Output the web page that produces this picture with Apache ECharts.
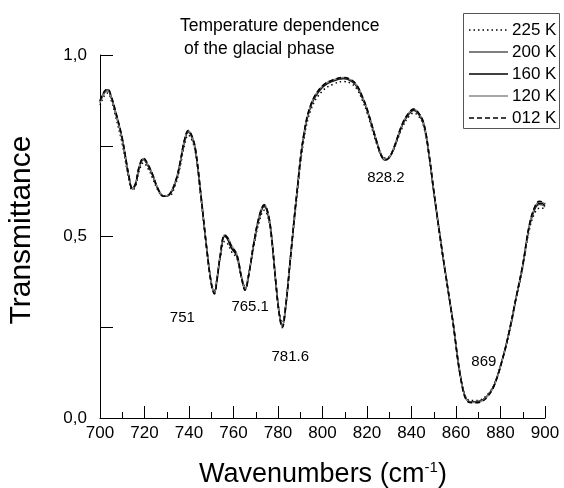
<!DOCTYPE html>
<html>
<head>
<meta charset="utf-8">
<script src="https://cdn.jsdelivr.net/npm/echarts@6/dist/echarts.min.js"></script>
<style>
html,body{margin:0;padding:0;background:#fff;}
#chart{width:564px;height:488px;}
</style>
</head>
<body>
<div id="chart"></div>
<script>
// Wavenumbers (cm^-1)
var wavenumbers = [
  700,702,703.5,705,707,710,713,714.5,716,717.5,
  719.5,721.5,723.5,726,728.5,731,734,736,738,739.7,
  741.5,743,745.5,748,750,751.4,752.5,754,756,757.5,
  759,761.5,763.5,765.2,767,769,771.5,773.8,775.5,777,
  779,780.5,781.9,783.5,785.5,788.5,791.5,795,800,805,
  809.5,813,815.5,818,820,824.5,826.5,828.2,830,832,
  836,839,841,843,845.5,848,850,854,858.5,862.5,
  865.5,868,871,874,877,881,884,887,890,893,
  895.5,897.5,899,900
];
var t225 = [
  0.862,0.888,0.895,0.876,0.831,0.755,0.656,0.628,0.638,0.678,
  0.703,0.688,0.663,0.628,0.612,0.612,0.645,0.692,0.753,0.779,
  0.763,0.727,0.598,0.462,0.375,0.352,0.382,0.44,0.486,0.479,
  0.459,0.44,0.39,0.362,0.402,0.468,0.54,0.572,0.553,0.498,
  0.375,0.295,0.262,0.315,0.432,0.61,0.762,0.853,0.901,0.92,
  0.927,0.921,0.906,0.874,0.842,0.752,0.722,0.716,0.72,0.74,
  0.802,0.832,0.84,0.833,0.803,0.715,0.622,0.448,0.27,0.1,
  0.05,0.048,0.05,0.064,0.09,0.165,0.238,0.326,0.415,0.52,
  0.566,0.578,0.578,0.574
];
var t200 = [
  0.868,0.895,0.901,0.882,0.839,0.765,0.662,0.631,0.643,0.686,
  0.711,0.695,0.67,0.631,0.611,0.614,0.65,0.699,0.762,0.787,
  0.769,0.732,0.603,0.464,0.372,0.346,0.379,0.446,0.5,0.49,
  0.468,0.446,0.389,0.355,0.4,0.474,0.549,0.582,0.56,0.503,
  0.374,0.29,0.254,0.311,0.434,0.618,0.772,0.862,0.91,0.928,
  0.934,0.927,0.912,0.88,0.848,0.756,0.72,0.71,0.716,0.74,
  0.808,0.838,0.847,0.838,0.808,0.718,0.624,0.45,0.27,0.098,
  0.047,0.045,0.047,0.061,0.088,0.165,0.24,0.33,0.42,0.528,
  0.576,0.588,0.586,0.581
];
var t160 = [
  0.872,0.898,0.904,0.885,0.843,0.768,0.665,0.632,0.645,0.688,
  0.714,0.697,0.672,0.632,0.612,0.615,0.652,0.702,0.765,0.79,
  0.772,0.735,0.605,0.465,0.372,0.345,0.378,0.445,0.502,0.492,
  0.47,0.447,0.39,0.354,0.4,0.476,0.552,0.585,0.563,0.505,
  0.375,0.29,0.252,0.31,0.435,0.62,0.775,0.865,0.913,0.93,
  0.936,0.929,0.914,0.882,0.85,0.758,0.723,0.712,0.718,0.742,
  0.81,0.84,0.849,0.84,0.81,0.72,0.625,0.45,0.27,0.098,
  0.046,0.044,0.046,0.06,0.088,0.165,0.24,0.33,0.42,0.53,
  0.579,0.592,0.59,0.585
];
var t120 = [
  0.87,0.897,0.903,0.884,0.841,0.767,0.664,0.632,0.646,0.689,
  0.715,0.698,0.673,0.633,0.612,0.616,0.653,0.703,0.766,0.791,
  0.773,0.736,0.606,0.466,0.373,0.346,0.38,0.448,0.505,0.497,
  0.476,0.452,0.392,0.354,0.401,0.478,0.555,0.588,0.566,0.507,
  0.376,0.29,0.251,0.309,0.436,0.622,0.777,0.867,0.915,0.932,
  0.938,0.931,0.916,0.884,0.852,0.76,0.724,0.712,0.719,0.744,
  0.812,0.842,0.851,0.842,0.812,0.722,0.626,0.451,0.27,0.097,
  0.045,0.043,0.045,0.059,0.087,0.164,0.24,0.331,0.421,0.532,
  0.582,0.595,0.594,0.589
];
var t012 = [
  0.874,0.9,0.906,0.887,0.845,0.77,0.666,0.632,0.646,0.69,
  0.716,0.699,0.673,0.632,0.611,0.615,0.653,0.704,0.767,0.792,
  0.774,0.737,0.606,0.465,0.37,0.342,0.376,0.445,0.504,0.495,
  0.474,0.45,0.39,0.352,0.399,0.477,0.554,0.587,0.565,0.506,
  0.374,0.288,0.249,0.308,0.435,0.621,0.777,0.867,0.915,0.932,
  0.938,0.931,0.916,0.884,0.852,0.759,0.723,0.711,0.718,0.743,
  0.812,0.842,0.851,0.842,0.812,0.721,0.626,0.45,0.269,0.096,
  0.044,0.042,0.044,0.058,0.087,0.164,0.241,0.332,0.422,0.533,
  0.583,0.597,0.595,0.59
];
var seriesNames = ['225 K','200 K','160 K','120 K','012 K'];
// Peak annotation labels (text, wavenumber, transmittance position)
var peakLabels = ['751','765.1','781.6','828.2','869'];
var peakLabelX = [737, 767.5, 785.5, 828.5, 872.5];
var peakLabelY = [0.275, 0.305, 0.168, 0.661, 0.154];
var titleLines = ['Temperature dependence', 'of the glacial phase'];

var FONT = '"Liberation Sans", Arial, sans-serif';
function pairs(vals){ return wavenumbers.map(function(x,i){ return [x, vals[i]]; }); }

var styles = [
  {color:'#000', width:1.5, type:[1.5,3]},
  {color:'#555', width:1.3, type:'solid'},
  {color:'#000', width:1.6, type:'solid'},
  {color:'#888', width:1.5, type:'solid'},
  {color:'#000', width:1.6, type:[5,3]}
];
var dataSets = [t225, t200, t160, t120, t012];

var series = seriesNames.map(function(n, k){
  return {
    name: n, type: 'line', data: pairs(dataSets[k]),
    symbol: 'none', smooth: 0.4,
    lineStyle: styles[k], itemStyle: {color: styles[k].color},
    z: 2 + k
  };
});
series[2].markPoint = {
  symbol: 'circle', symbolSize: 0, silent: true,
  label: {show: true, position: 'inside', color: '#000', fontSize: 15, fontFamily: FONT,
          formatter: function(p){ return p.name; }},
  data: peakLabels.map(function(t,i){ return {name: t, coord: [peakLabelX[i], peakLabelY[i]]}; })
};

// Legend drawn as graphics (line sample + label)
var legendGraphics = [
  {type: 'rect', left: 463, top: 13, shape: {width: 96, height: 115},
   style: {fill: '#fff', stroke: '#555', lineWidth: 1}, silent: true, z: 10}
];
seriesNames.forEach(function(n, k){
  var yy = 30 + k * 22;
  legendGraphics.push({type: 'line', z: 11, silent: true,
    shape: {x1: 469, y1: yy, x2: 508, y2: yy},
    style: {stroke: styles[k].color, lineWidth: styles[k].width,
            lineDash: styles[k].type === 'solid' ? null : styles[k].type}});
  legendGraphics.push({type: 'text', z: 11, silent: true, x: 512, y: yy,
    style: {text: n, font: '17px ' + FONT, fill: '#000', verticalAlign: 'middle', align: 'left'}});
});

var chart = echarts.init(document.getElementById('chart'), null, {renderer:'canvas'});
chart.setOption({
  animation: false,
  backgroundColor: '#fff',
  grid: {left: 100, right: 19, top: 55, bottom: 70, containLabel: false},
  xAxis: {
    type: 'value', min: 700, max: 900, interval: 20,
    axisLine: {show: true, onZero: false, lineStyle: {color: '#000', width: 1}},
    axisTick: {show: true, inside: true, length: 12, lineStyle: {color: '#000'}},
    minorTick: {show: true, splitNumber: 2, length: 6, lineStyle: {color: '#000'}},
    splitLine: {show: false},
    axisLabel: {fontSize: 17, color: '#000', fontFamily: FONT, margin: 7}
  },
  yAxis: {
    type: 'value', min: 0, max: 1, interval: 0.25,
    axisLine: {show: true, lineStyle: {color: '#000', width: 1}},
    axisTick: {show: true, inside: true, length: 13, lineStyle: {color: '#000'}},
    splitLine: {show: false},
    axisLabel: {fontSize: 17, color: '#000', fontFamily: FONT, margin: 13,
      formatter: function(v){
        if (Math.abs(v*2 - Math.round(v*2)) < 1e-6) return v.toFixed(1).replace('.', ',');
        return '';
      }}
  },
  graphic: legendGraphics.concat([
    {type: 'text', left: 180, top: 17, style: {text: titleLines[0], fill: '#000', font: '17.5px ' + FONT}},
    {type: 'text', left: 184, top: 40, style: {text: titleLines[1], fill: '#000', font: '17.5px ' + FONT}},
    {type: 'text', x: 22, y: 230, rotation: Math.PI/2,
     style: {text: 'Transmittance', font: '30px ' + FONT, fill: '#000', align: 'center', verticalAlign: 'middle'}},
    {type: 'text', x: 323, y: 475,
     style: {text: '{a|Wavenumbers (cm}{s|-1}{a|)}', align: 'center', verticalAlign: 'middle',
       rich: {a: {fontSize: 27, fontFamily: FONT, fill: '#000', color: '#000'},
              s: {fontSize: 15, fontFamily: FONT, fill: '#000', color: '#000', padding: [0,0,15,0]}}}}
  ]),
  series: series
});
</script>
</body>
</html>
